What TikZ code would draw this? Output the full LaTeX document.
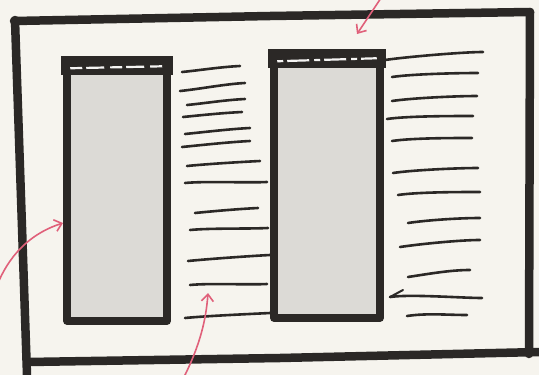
\documentclass[tikz,border=0pt]{standalone}
\usetikzlibrary{arrows.meta}
\definecolor{ink}{HTML}{2B2826}
\definecolor{paper}{HTML}{F6F4EE}
\definecolor{screen}{HTML}{DCDAD6}
\definecolor{redpen}{HTML}{E0607A}
\tikzset{
  frameline/.style={draw=ink, line width=8.5pt, line cap=round, line join=round},
  phonebox/.style={draw=ink, fill=screen, line width=7.5pt, minimum width=#1, inner sep=0pt, line join=round},
  textline/.style={draw=ink, line width=2.6pt, line cap=round},
  redarrow/.style={draw=redpen, line width=1.6pt, line cap=round, -{Straight Barb[length=7pt,width=12pt,line width=1.6pt]}},
}
\begin{document}
\begin{tikzpicture}[x=1pt,y=-1pt]
\fill[paper] (0,0) rectangle (539,375);
\useasboundingbox (0,0) rectangle (539,375);
% outer frame
\draw[frameline] (14,21) -- (270,16) -- (530,12);
\draw[frameline] (530,12) -- (529,354);
\draw[frameline] (28,362) -- (280,358) -- (539,352);
\draw[frameline] (15,20) -- (27,375);
% phones
\node[phonebox=100pt, minimum height=258pt] (lp) at (117,192) {};
\node[phonebox=106pt, minimum height=262pt] (rp) at (327,187) {};
% header bands
\fill[ink] ([xshift=-2pt,yshift=3pt]lp.north west) rectangle ([xshift=2pt,yshift=-16pt]lp.north east);
\draw[white!70!screen, line width=2.2pt, dash pattern=on 12pt off 4pt on 18pt off 6pt] ([xshift=7pt,yshift=-9pt]lp.north west) -- ([xshift=-7pt,yshift=-7pt]lp.north east);
\fill[ink] ([xshift=-2pt,yshift=3pt]rp.north west) rectangle ([xshift=2pt,yshift=-16pt]rp.north east);
\draw[white!70!screen, line width=2.2pt, dash pattern=on 6pt off 4pt on 22pt off 5pt] ([xshift=7pt,yshift=-9pt]rp.north west) -- ([xshift=-7pt,yshift=-6pt]rp.north east);
% left column text lines
\foreach \a/\b/\c/\d in {182/72/240/66, 180/91/245/83, 187/105/245/99, 183/117/242/112,
  185/134/250/128, 182/147/250/141, 187/166/260/161, 185/183/267/182,
  195/213/258/208, 190/230/268/228, 188/261/270/255, 190/285/267/284, 185/318/270/313}
  \draw[textline] (\a,\b) .. controls ({\a+20},{\b-2}) and ({\c-20},{\d+1}) .. (\c,\d);
% right column text lines
\foreach \a/\b/\c/\d in {385/60/483/52, 392/77/478/73, 392/101/477/96, 387/119/473/116,
  392/141/472/138, 393/173/478/168, 398/195/480/192, 408/223/480/218,
  400/247/480/240, 408/277/470/270, 390/297/482/298, 407/316/467/315}
  \draw[textline] (\a,\b) .. controls ({\a+20},{\b-3}) and ({\c-20},{\d}) .. (\c,\d);
% small dark tick at right phone
\coordinate (tk) at (390,297);
\draw[textline, line width=2pt] (tk) -- (403,290);
% red arrows
\coordinate (ta0) at (381,-2);
\coordinate (ta1) at (357,34);
\draw[redarrow] (ta0) -- (ta1);
\coordinate (la0) at (-2,283);
\coordinate (la1) at (63,223);
\draw[redarrow] (la0) .. controls (12,250) and (35,232) .. (la1);
\coordinate (ba0) at (184,377);
\coordinate (ba1) at (208,293);
\draw[redarrow] (ba0) .. controls (200,345) and (206,320) .. (ba1);
\end{tikzpicture}
\end{document}
